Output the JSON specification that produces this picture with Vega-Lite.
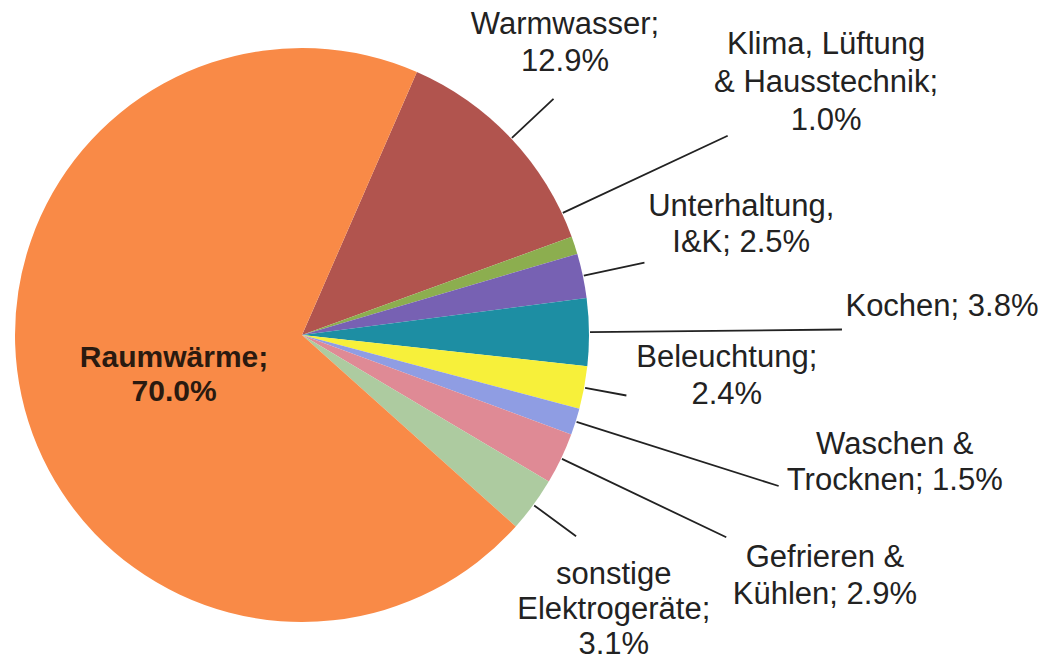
{
  "$schema": "https://vega.github.io/schema/vega-lite/v6.json",
  "width": 574,
  "height": 574,
  "autosize": {"type": "none"},
  "padding": {"left": 15, "top": 48, "right": 454, "bottom": 39},
  "background": "white",
  "config": {"view": {"stroke": null}},
  "data": {
    "values": [
      {"order": 1, "cat": "Warmwasser", "value": 12.9, "label": "Warmwasser;\n12.9%"},
      {"order": 2, "cat": "Klima, Lüftung & Hausstechnik", "value": 1.0, "label": "Klima, Lüftung\n& Hausstechnik;\n1.0%"},
      {"order": 3, "cat": "Unterhaltung, I&K", "value": 2.5, "label": "Unterhaltung,\nI&K; 2.5%"},
      {"order": 4, "cat": "Kochen", "value": 3.8, "label": "Kochen; 3.8%"},
      {"order": 5, "cat": "Beleuchtung", "value": 2.4, "label": "Beleuchtung;\n2.4%"},
      {"order": 6, "cat": "Waschen & Trocknen", "value": 1.5, "label": "Waschen &\nTrocknen; 1.5%"},
      {"order": 7, "cat": "Gefrieren & Kühlen", "value": 2.9, "label": "Gefrieren &\nKühlen; 2.9%"},
      {"order": 8, "cat": "sonstige Elektrogeräte", "value": 3.1, "label": "sonstige\nElektrogeräte;\n3.1%"},
      {"order": 9, "cat": "Raumwärme", "value": 70.0, "label": "Raumwärme;\n70.0%"}
    ]
  },
  "encoding": {
    "theta": {"field": "value", "type": "quantitative", "stack": true, "scale": {"domain": [0, 100.1], "range": [0.4119, 6.6951]}},
    "order": {"field": "order", "type": "quantitative"},
    "detail": {"field": "cat", "type": "nominal"}
  },
  "layer": [
    {
      "mark": {"type": "arc", "radius": 287},
      "encoding": {
        "color": {
          "field": "cat", "type": "nominal", "legend": null,
          "scale": {
            "domain": ["Warmwasser", "Klima, Lüftung & Hausstechnik", "Unterhaltung, I&K", "Kochen", "Beleuchtung", "Waschen & Trocknen", "Gefrieren & Kühlen", "sonstige Elektrogeräte", "Raumwärme"],
            "range": ["#B1544E", "#8CAE4F", "#7761B3", "#1D8EA3", "#F7F03A", "#8F9DE3", "#DF8A95", "#ADCBA0", "#F98A47"]
          }
        }
      }
    },
    {
      "mark": {"type": "arc", "filled": false, "stroke": "#222222", "strokeWidth": 1.8, "padAngle": 3.1416, "radius": 345, "radius2": 288},
      "encoding": {"strokeOpacity": {"condition": {"test": "datum.order === 1", "value": 1}, "value": 0}}
    },
    {
      "mark": {"type": "arc", "filled": false, "stroke": "#222222", "strokeWidth": 1.8, "padAngle": 3.1416, "radius": 470, "radius2": 288, "thetaOffset": -0.12, "theta2Offset": -0.12},
      "encoding": {"strokeOpacity": {"condition": {"test": "datum.order === 2", "value": 1}, "value": 0}}
    },
    {
      "mark": {"type": "arc", "filled": false, "stroke": "#222222", "strokeWidth": 1.8, "padAngle": 3.1416, "radius": 350, "radius2": 288},
      "encoding": {"strokeOpacity": {"condition": {"test": "datum.order === 3", "value": 1}, "value": 0}}
    },
    {
      "mark": {"type": "arc", "filled": false, "stroke": "#222222", "strokeWidth": 1.8, "padAngle": 3.1416, "radius": 540, "radius2": 288},
      "encoding": {"strokeOpacity": {"condition": {"test": "datum.order === 4", "value": 1}, "value": 0}}
    },
    {
      "mark": {"type": "arc", "filled": false, "stroke": "#222222", "strokeWidth": 1.8, "padAngle": 3.1416, "radius": 330, "radius2": 288},
      "encoding": {"strokeOpacity": {"condition": {"test": "datum.order === 5", "value": 1}, "value": 0}}
    },
    {
      "mark": {"type": "arc", "filled": false, "stroke": "#222222", "strokeWidth": 1.8, "padAngle": 3.1416, "radius": 500, "radius2": 288},
      "encoding": {"strokeOpacity": {"condition": {"test": "datum.order === 6", "value": 1}, "value": 0}}
    },
    {
      "mark": {"type": "arc", "filled": false, "stroke": "#222222", "strokeWidth": 1.8, "padAngle": 3.1416, "radius": 470, "radius2": 288},
      "encoding": {"strokeOpacity": {"condition": {"test": "datum.order === 7", "value": 1}, "value": 0}}
    },
    {
      "mark": {"type": "arc", "filled": false, "stroke": "#222222", "strokeWidth": 1.8, "padAngle": 3.1416, "radius": 340, "radius2": 288},
      "encoding": {"strokeOpacity": {"condition": {"test": "datum.order === 8", "value": 1}, "value": 0}}
    },
    {
      "mark": {"type": "text", "radius": 391, "dx": -22, "dy": -42, "font": "Liberation Sans", "fontSize": 31, "lineBreak": "\n", "lineHeight": 37, "align": "center", "baseline": "middle", "color": "#222222"},
      "encoding": {"text": {"condition": {"test": "datum.order === 1", "field": "label", "type": "nominal"}, "value": ""}}
    },
    {
      "mark": {"type": "text", "radius": 577, "dx": -24, "dy": -110, "font": "Liberation Sans", "fontSize": 31, "lineBreak": "\n", "lineHeight": 38, "align": "center", "baseline": "middle", "color": "#222222"},
      "encoding": {"text": {"condition": {"test": "datum.order === 2", "field": "label", "type": "nominal"}, "value": ""}}
    },
    {
      "mark": {"type": "text", "radius": 453, "dx": -4, "dy": -34, "font": "Liberation Sans", "fontSize": 31, "lineBreak": "\n", "lineHeight": 36, "align": "center", "baseline": "middle", "color": "#222222"},
      "encoding": {"text": {"condition": {"test": "datum.order === 3", "field": "label", "type": "nominal"}, "value": ""}}
    },
    {
      "mark": {"type": "text", "radius": 640, "dx": 0, "dy": -21, "font": "Liberation Sans", "fontSize": 31, "lineBreak": "\n", "lineHeight": 37, "align": "center", "baseline": "middle", "color": "#222222"},
      "encoding": {"text": {"condition": {"test": "datum.order === 4", "field": "label", "type": "nominal"}, "value": ""}}
    },
    {
      "mark": {"type": "text", "radius": 425, "dx": 7, "dy": -55, "font": "Liberation Sans", "fontSize": 31, "lineBreak": "\n", "lineHeight": 37, "align": "center", "baseline": "middle", "color": "#222222"},
      "encoding": {"text": {"condition": {"test": "datum.order === 5", "field": "label", "type": "nominal"}, "value": ""}}
    },
    {
      "mark": {"type": "text", "radius": 604, "dx": 17, "dy": -72, "font": "Liberation Sans", "fontSize": 31, "lineBreak": "\n", "lineHeight": 36, "align": "center", "baseline": "middle", "color": "#222222"},
      "encoding": {"text": {"condition": {"test": "datum.order === 6", "field": "label", "type": "nominal"}, "value": ""}}
    },
    {
      "mark": {"type": "text", "radius": 576, "dx": 3, "dy": -25, "font": "Liberation Sans", "fontSize": 31, "lineBreak": "\n", "lineHeight": 37, "align": "center", "baseline": "middle", "color": "#222222"},
      "encoding": {"text": {"condition": {"test": "datum.order === 7", "field": "label", "type": "nominal"}, "value": ""}}
    },
    {
      "mark": {"type": "text", "radius": 414, "dx": -22, "dy": -5, "font": "Liberation Sans", "fontSize": 31, "lineBreak": "\n", "lineHeight": 35, "align": "center", "baseline": "middle", "color": "#222222"},
      "encoding": {"text": {"condition": {"test": "datum.order === 8", "field": "label", "type": "nominal"}, "value": ""}}
    },
    {
      "mark": {"type": "text", "radius": 134, "dx": 3, "dy": -5, "font": "Liberation Sans", "fontSize": 30, "fontWeight": "bold", "lineBreak": "\n", "lineHeight": 34, "align": "center", "baseline": "middle", "color": "#2a1a10"},
      "encoding": {"text": {"condition": {"test": "datum.order === 9", "field": "label", "type": "nominal"}, "value": ""}}
    }
  ]
}
